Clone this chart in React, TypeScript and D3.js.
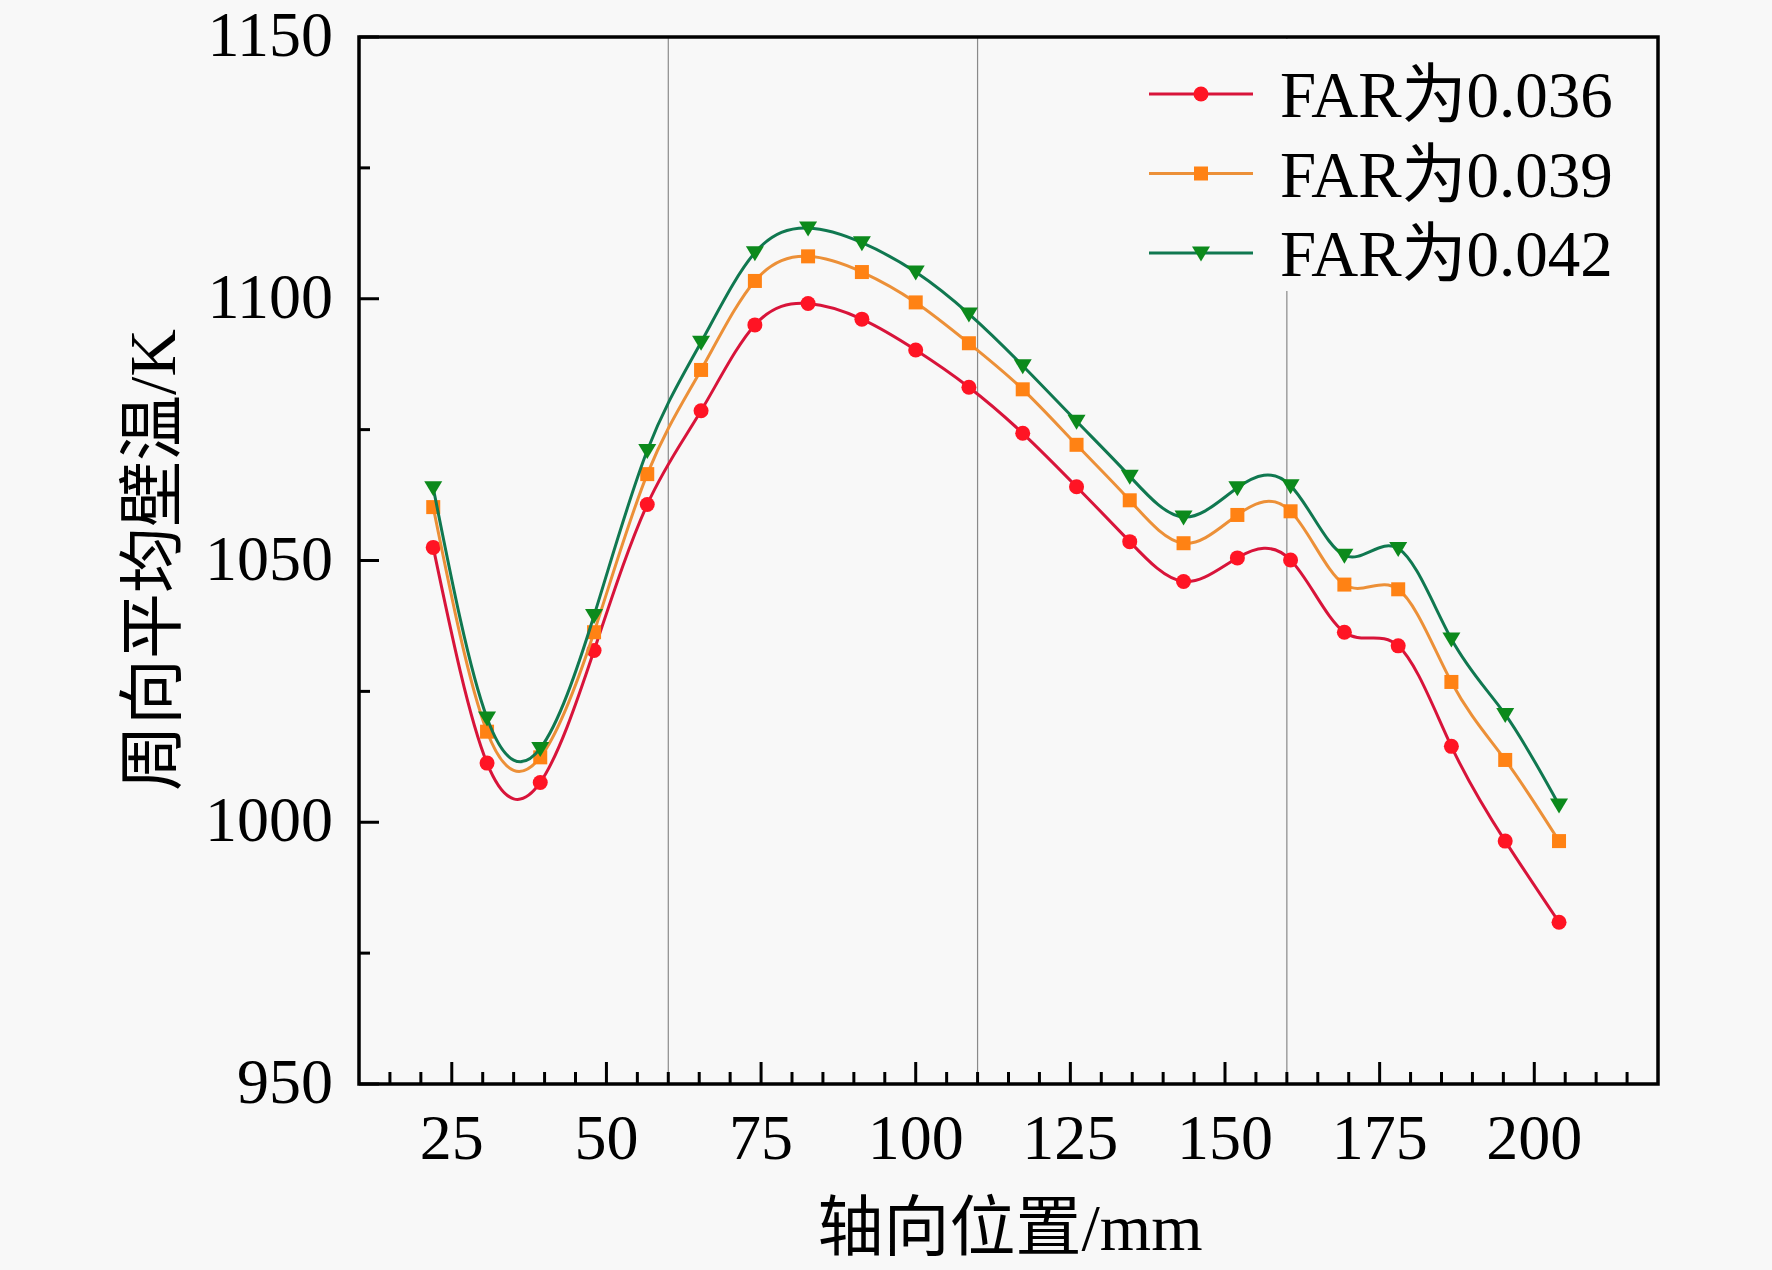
import * as d3 from 'd3'
import React from 'react'

// axial position (mm) of the sample points
const positions = [
  22, 30.7, 39.3, 48, 56.6, 65.3, 74, 82.6, 91.3, 100, 108.6, 117.3, 126, 134.6, 143.3, 152, 160.6, 169.3, 178,
  186.6, 195.3, 204,
]

const far036 = [
  1052.5, 1011.3, 1007.6, 1032.8, 1060.7, 1078.6, 1095, 1099.1, 1096.1, 1090.2, 1083.1, 1074.3, 1064.1, 1053.6, 1046,
  1050.5, 1050.1, 1036.3, 1033.7, 1014.5, 996.4, 980.9,
]
const far039 = [
  1060.2, 1017.3, 1012.4, 1036.3, 1066.5, 1086.4, 1103.4, 1108.1, 1105.1, 1099.3, 1091.5, 1082.7, 1072.1, 1061.5, 1053.3,
  1058.7, 1059.4, 1045.4, 1044.5, 1026.8, 1011.9, 996.4,
]
const far042 = [
  1063.9, 1019.9, 1014.1, 1039.5, 1071, 1091.7, 1108.8, 1113.5, 1110.7, 1105.1, 1097.1, 1087.2, 1076.6, 1066.1, 1058.3,
  1063.9, 1064.3, 1051, 1052.3, 1035, 1020.6, 1003.3,
]

const seriesLabels = ['FAR为0.036', 'FAR为0.039', 'FAR为0.042']
const xTicks = [25, 50, 75, 100, 125, 150, 175, 200]
const yTicks = [950, 1000, 1050, 1100, 1150]
const yMinor = [975, 1025, 1075, 1125]
const refLines = [60, 110, 160]

const W = 1772
const H = 1270
const plot = { left: 359, right: 1658, top: 37, bottom: 1084 }
const bg = '#f8f8f8'
const font = '"Liberation Serif", "Times New Roman", "Noto Sans CJK SC", serif'

const styles = [
  { line: '#d8143a', fill: '#ff1424', shape: 'circle' },
  { line: '#ec9038', fill: '#ff8214', shape: 'square' },
  { line: '#107850', fill: '#0c8a1c', shape: 'tri' },
]

const Marker = ({ shape, x, y, fill }: { shape: string; x: number; y: number; fill: string }) => {
  if (shape === 'circle') return <circle cx={x} cy={y} r={7.5} fill={fill} />
  if (shape === 'square') return <rect x={x - 7} y={y - 7} width={14} height={14} fill={fill} />
  return <path d={`M${x - 9},${y - 6.5} L${x + 9},${y - 6.5} L${x},${y + 8.5} Z`} fill={fill} />
}

const App = () => {
  const x = d3.scaleLinear().domain([10, 220]).range([plot.left, plot.right])
  const y = d3.scaleLinear().domain([950, 1150]).range([plot.bottom, plot.top])

  const allSeries = [far036, far039, far042]
  const line = d3
    .line<[number, number]>()
    .x((d) => x(d[0]))
    .y((d) => y(d[1]))
    .curve(d3.curveNatural)

  const xMinor = d3.range(15, 220, 5).filter((v) => v % 25 !== 0)

  return (
    <svg width={W} height={H} style={{ position: 'absolute', left: 0, top: 0 }} fontFamily={font}>
      <rect width={W} height={H} fill={bg} />

      {refLines.map((v) => (
        <line key={v} x1={x(v)} x2={x(v)} y1={plot.top} y2={plot.bottom} stroke="#8a8a8a" strokeWidth={1.2} />
      ))}

      {allSeries.map((vals, i) => {
        const pts = positions.map((p, j) => [p, vals[j]] as [number, number])
        return (
          <g key={i}>
            <path d={line(pts) ?? ''} fill="none" stroke={styles[i].line} strokeWidth={3} />
            {pts.map((p, j) => (
              <Marker key={j} shape={styles[i].shape} x={x(p[0])} y={y(p[1])} fill={styles[i].fill} />
            ))}
          </g>
        )
      })}

      {/* legend */}
      <rect x={1146} y={plot.top + 2} width={plot.right - 1146 - 2} height={291 - plot.top - 2} fill={bg} />
      {seriesLabels.map((lab, i) => {
        const cy = 94 + i * 79.5
        return (
          <g key={lab}>
            <line x1={1149} x2={1253} y1={cy} y2={cy} stroke={styles[i].line} strokeWidth={3.2} />
            <Marker shape={styles[i].shape} x={1201} y={cy} fill={styles[i].fill} />
            <text x={1280} y={cy + 23} fontSize={65}>
              {lab}
            </text>
          </g>
        )
      })}

      {/* frame */}
      <rect
        x={plot.left}
        y={plot.top}
        width={plot.right - plot.left}
        height={plot.bottom - plot.top}
        fill="none"
        stroke="#000"
        strokeWidth={3.5}
      />

      {/* x ticks */}
      {xTicks.map((v) => (
        <g key={v}>
          <line x1={x(v)} x2={x(v)} y1={plot.bottom} y2={plot.bottom - 22} stroke="#000" strokeWidth={3} />
          <text x={x(v)} y={1159} fontSize={64} textAnchor="middle">
            {v}
          </text>
        </g>
      ))}
      {xMinor.map((v) => (
        <line key={v} x1={x(v)} x2={x(v)} y1={plot.bottom} y2={plot.bottom - 12} stroke="#000" strokeWidth={3} />
      ))}

      {/* y ticks */}
      {yTicks.map((v) => (
        <g key={v}>
          <line x1={plot.left} x2={plot.left + 20} y1={y(v)} y2={y(v)} stroke="#000" strokeWidth={3} />
          <text x={333} y={y(v) + 19} fontSize={64} textAnchor="end">
            {v}
          </text>
        </g>
      ))}
      {yMinor.map((v) => (
        <line key={v} x1={plot.left} x2={plot.left + 11} y1={y(v)} y2={y(v)} stroke="#000" strokeWidth={3} />
      ))}

      <text x={1010} y={1250} fontSize={66} textAnchor="middle">
        轴向位置/mm
      </text>
      <text transform="translate(175,560) rotate(-90)" fontSize={66} textAnchor="middle">
        周向平均壁温/K
      </text>
    </svg>
  )
}

export default App
